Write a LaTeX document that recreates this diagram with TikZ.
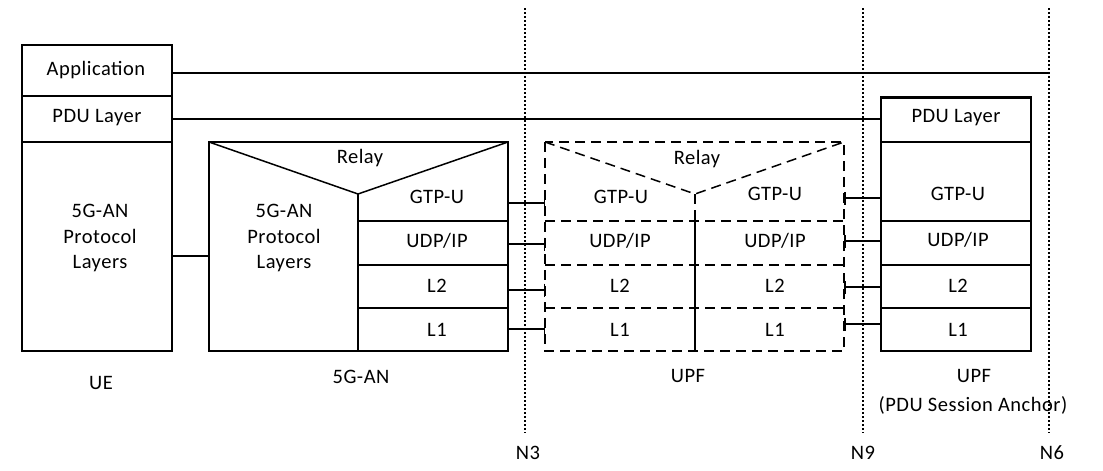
\documentclass[tikz,border=0pt]{standalone}
\usepackage{fontspec}
\setmainfont{Carlito}[LetterSpace=2.5]
\usetikzlibrary{arrows.meta}
\begin{document}
\begin{tikzpicture}[x=1pt,y=-1pt,
  box/.style={draw, line width=1.5pt},
  dbox/.style={draw, line width=1.5pt, dash pattern=on 10pt off 6pt},
  lbl/.style={font=\fontsize{20.5}{25.5}\selectfont, inner sep=0pt, align=center},
  link/.style={line width=1.5pt},
  tee/.style={line width=1.5pt, -{Bar[width=13pt,line width=1.5pt]}},
  teel/.style={line width=1.5pt, {Bar[width=13pt,line width=1.5pt]}-},
  refline/.style={line width=1.2pt, dash pattern=on 1.8pt off 2.2pt},
]
\useasboundingbox (0,0) rectangle (1103,471);

% ---------- UE ----------
\draw[box] (22,45) rectangle (172,351);
\draw[box] (22,96) -- (172,96);
\draw[box] (22,142) -- (172,142);
\node[lbl] (ueapp) at (96,70) {Application};
\node[lbl] (uepdu) at (97,118) {PDU Layer};
\node[lbl] (ueprot) at (100,238) {5G-AN\\Protocol\\Layers};
\node[lbl] (uelab) at (101,383) {UE};

% ---------- 5G-AN ----------
\draw[box] (209,142) rectangle (508,351);
\draw[box] (209,142) -- (358,194) -- (508,142);
\draw[box] (358,194) -- (358,351);
\draw[box] (358,221) -- (508,221);
\draw[box] (358,265) -- (508,265);
\draw[box] (358,308) -- (508,308);
\node[lbl] (anrelay) at (360,158) {Relay};
\node[lbl] (anprot) at (284,238) {5G-AN\\Protocol\\Layers};
\node[lbl] (angtp) at (437,197) {GTP-U};
\node[lbl] (anudp) at (437,241) {UDP/IP};
\node[lbl] (anl2) at (437,286) {L2};
\node[lbl] (anl1) at (437,330) {L1};
\node[lbl] (anlab) at (361,377) {5G-AN};

% ---------- UPF (intermediate, dashed) ----------
\draw[dbox] (545,142) rectangle (844,351);
\draw[dbox] (545,142) -- (695,194) -- (844,142);
\draw[dbox] (695,194) -- (695,221);
\draw[line width=1.1pt] (695,221) -- (695,351);
\draw[dbox] (545,221) -- (844,221);
\draw[dbox] (545,265) -- (844,265);
\draw[dbox] (545,308) -- (844,308);
\node[lbl] (urelay) at (697,159) {Relay};
\node[lbl] (ugtpa) at (621,197) {GTP-U};
\node[lbl] (ugtpb) at (775,194) {GTP-U};
\node[lbl] (uudpa) at (620,241) {UDP/IP};
\node[lbl] (uudpb) at (775,241) {UDP/IP};
\node[lbl] (ul2a) at (620,286) {L2};
\node[lbl] (ul2b) at (775,286) {L2};
\node[lbl] (ul1a) at (620,330) {L1};
\node[lbl] (ul1b) at (775,330) {L1};
\node[lbl] (ulab) at (688,376) {UPF};

% ---------- UPF (PDU Session Anchor) ----------
\draw[box] (881,97) rectangle (1031,351);
\draw[line width=3pt] (881,97) -- (1031,97);
\draw[box] (881,142) -- (1031,142);
\draw[box] (881,221) -- (1031,221);
\draw[box] (881,265) -- (1031,265);
\draw[box] (881,308) -- (1031,308);
\node[lbl] (ppdu) at (956,118) {PDU Layer};
\node[lbl] (pgtp) at (958,194) {GTP-U};
\node[lbl] (pudp) at (958,240) {UDP/IP};
\node[lbl] (pl2) at (958,286) {L2};
\node[lbl] (pl1) at (958,330) {L1};
\node[lbl] (plab) at (974,376) {UPF};
\node[lbl] (plab2) at (973,405) {(PDU Session Anchor)};

% ---------- reference points ----------
\coordinate (n3t) at (525,8);   \coordinate (n3b) at (525,433);
\coordinate (n9t) at (863,8);   \coordinate (n9b) at (863,433);
\coordinate (n6t) at (1049,8);  \coordinate (n6b) at (1049,433);
\draw[refline] (n3t) -- (n3b);
\draw[refline] (n9t) -- (n9b);
\draw[refline] (n6t) -- (n6b);
\node[lbl] (n3) at (528,453) {N3};
\node[lbl] (n9) at (863,453) {N9};
\node[lbl] (n6) at (1052,453) {N6};

% ---------- connectors ----------
\coordinate (appS) at (172,73);  \coordinate (appE) at (1049,73);
\draw[link] (appS) -- (appE);
\coordinate (pduS) at (172,119); \coordinate (pduE) at (881,119);
\draw[link] (pduS) -- (pduE);
\coordinate (ueR) at (172,256);  \coordinate (anL) at (209,256);
\draw[link] (ueR) -- (anL);

\coordinate (a1) at (508,203); \coordinate (b1) at (545,203);
\coordinate (a2) at (508,244); \coordinate (b2) at (545,244);
\coordinate (a3) at (508,290); \coordinate (b3) at (545,290);
\coordinate (a4) at (508,329); \coordinate (b4) at (545,329);
\draw[tee] (a1) -- (b1);
\draw[tee] (a2) -- (b2);
\draw[tee] (a3) -- (b3);
\draw[tee] (a4) -- (b4);

\coordinate (c1) at (844,198); \coordinate (d1) at (881,198);
\coordinate (c2) at (844,241); \coordinate (d2) at (881,241);
\coordinate (c3) at (844,287); \coordinate (d3) at (881,287);
\coordinate (c4) at (844,324); \coordinate (d4) at (881,324);
\draw[teel] (c1) -- (d1);
\draw[teel] (c2) -- (d2);
\draw[teel] (c3) -- (d3);
\draw[teel] (c4) -- (d4);
\end{tikzpicture}
\end{document}
